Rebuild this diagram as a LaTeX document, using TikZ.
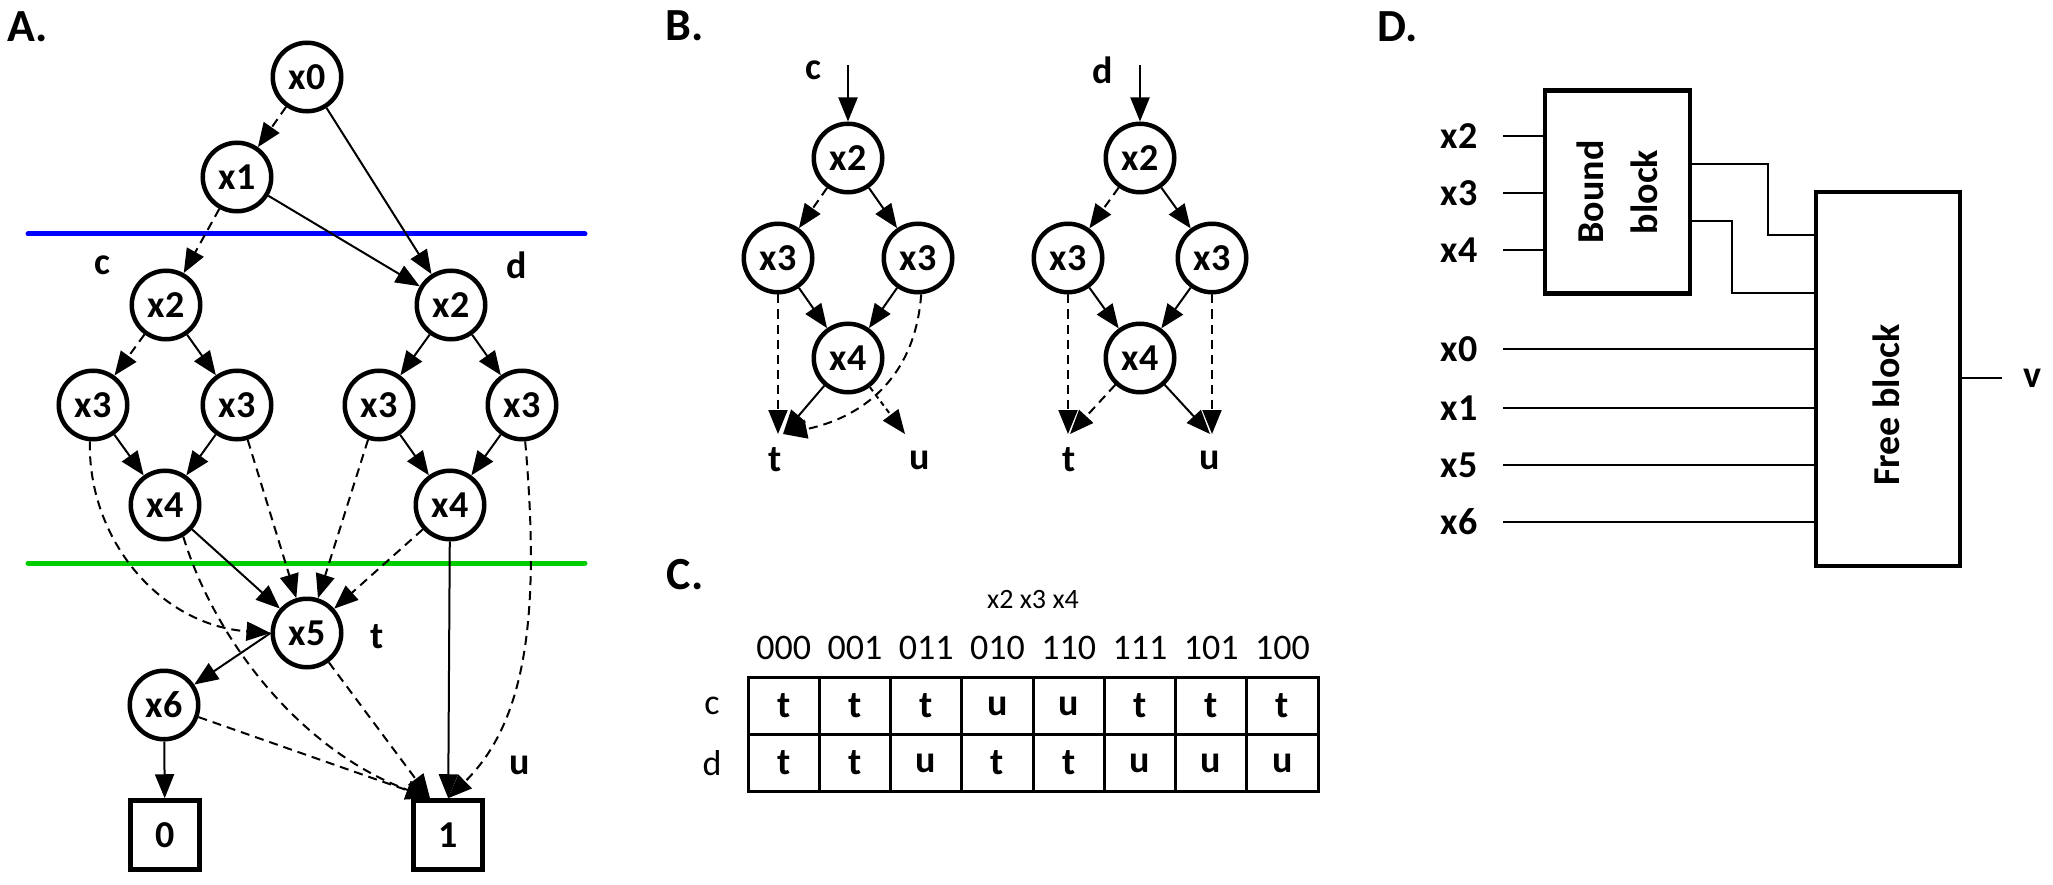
\documentclass[tikz,border=0pt]{standalone}
\usepackage{fontspec}
\setmainfont{Carlito}
\usetikzlibrary{arrows.meta,calc}
\definecolor{grn}{RGB}{0,204,0}
\definecolor{blu}{RGB}{0,0,255}
\begin{document}
\begin{tikzpicture}[x=1pt,y=-1pt,
  vnode/.style={circle,draw,line width=4.5pt,minimum size=68.5pt,inner sep=0pt,font=\fontsize{38}{40}\selectfont\bfseries},
  tbox/.style={rectangle,draw,line width=4.5pt,minimum size=69pt,inner sep=0pt,font=\fontsize{38}{40}\selectfont\bfseries},
  lbl/.style={inner sep=0pt,font=\fontsize{38}{40}\selectfont\bfseries},
  panel/.style={inner sep=0pt,font=\fontsize{46}{50}\selectfont\bfseries},
  edge/.style={line width=2pt,-{Triangle[length=24pt,width=19pt]}},
  dsh/.style={dash pattern=on 9pt off 6pt},
  fine/.style={dash pattern=on 5pt off 4pt},
  wire/.style={line width=2.5pt},
  blk/.style={draw,line width=4.5pt,inner sep=0pt},
  tline/.style={line width=3pt},
  hdr/.style={inner sep=0pt,font=\fontsize{36}{40}\selectfont},
  cell/.style={inner sep=0pt,font=\fontsize{38}{40}\selectfont\bfseries},
  sep/.style={line width=5pt,line cap=round}
]
\fill[white] (0,0) rectangle (2053,885);
\useasboundingbox (0,0) rectangle (2053,885);

% ---------------- Panel A ----------------
\node[panel] (pA) at (28,27) {A.};
\draw[sep,blu] (28,234) -- (585,234);
\draw[sep,grn] (28,563) -- (585,563);

\node[vnode] (x0) at (307,77) {x0};
\node[vnode] (x1) at (237,177) {x1};
\node[vnode] (x2c) at (166,305) {x2};
\node[vnode] (x2d) at (451,305) {x2};
\node[vnode] (x3a) at (93,405) {x3};
\node[vnode] (x3b) at (237,405) {x3};
\node[vnode] (x3c) at (379,405) {x3};
\node[vnode] (x3d) at (522,405) {x3};
\node[vnode] (x4c) at (165,505) {x4};
\node[vnode] (x4d) at (450,505) {x4};
\node[vnode] (x5) at (307,633) {x5};
\node[vnode] (x6) at (164,705) {x6};
\node[tbox] (b0) at (165,835) {0};
\node[tbox] (b1) at (448,835) {1};
\node[lbl] (lc) at (102,265) {c};
\node[lbl] (ld) at (517,265) {d};
\node[lbl] (lt) at (377,637) {t};
\node[lbl] (lu) at (520,765) {u};
\coordinate (b1t) at ($(b1.north)+(-18,0)$);

\draw[edge,dsh] (x0) -- (x1);
\draw[edge] (x0) -- (x2d);
\draw[edge,dsh] (x1) -- (x2c);
\draw[edge] (x1) -- (x2d);
\draw[edge,dsh] (x2c) -- (x3a);
\draw[edge] (x2c) -- (x3b);
\draw[edge] (x2d) -- (x3c);
\draw[edge] (x2d) -- (x3d);
\draw[edge] (x3a) -- (x4c);
\draw[edge] (x3b) -- (x4c);
\draw[edge] (x3c) -- (x4d);
\draw[edge] (x3d) -- (x4d);
\draw[edge,dsh] (x3a.265) .. controls (88,540) and (160,625) .. (x5.west);
\draw[edge,dsh] (x3b) -- (x5);
\draw[edge,dsh] (x3c) -- (x5);
\draw[edge,dsh] (x4d) -- (x5);
\draw[edge] (x4c) -- (x5);
\draw[edge,dsh] (x4c.300) .. controls (215,640) and (300,750) .. (b1t);
\draw[edge] (x4d) -- (b1);
\draw[edge,dsh] (x3d.275) .. controls (540,610) and (528,720) .. (b1.north);
\draw[edge] (x5.west) -- (x6);
\draw[edge,dsh] (x5) -- (b1t);
\draw[edge,dsh] (x6) -- (b1t);
\draw[edge] (x6) -- (b0);

% ---------------- Panel B ----------------
\node[panel] (pB) at (685,26) {B.};
% tree c
\node[lbl] (bc) at (813,70) {c};
\coordinate (cin) at (848,65);
\node[vnode] (bx2c) at (848,158) {x2};
\node[vnode] (bx3cl) at (778,258) {x3};
\node[vnode] (bx3cr) at (918,258) {x3};
\node[vnode] (bx4c) at (848,358) {x4};
\node[lbl] (btc) at (775,460) {t};
\node[lbl] (buc) at (920,460) {u};
\coordinate (ct) at (783,434);
\coordinate (cu) at (905,434);
\draw[edge] (cin) -- (bx2c);
\draw[edge,dsh] (bx2c) -- (bx3cl);
\draw[edge] (bx2c) -- (bx3cr);
\draw[edge] (bx3cl) -- (bx4c);
\draw[edge] (bx3cr) -- (bx4c);
\draw[edge,dsh] (bx3cl.south) -- (bx3cl.south |- ct);
\draw[edge] (bx4c) -- (ct);
\draw[edge,dsh] (bx3cr.275) .. controls (915,380) and (860,418) .. (ct);
\draw[edge,fine] (bx4c) -- (cu);
% tree d
\node[lbl] (bd) at (1103,70) {d};
\coordinate (din) at (1140,65);
\node[vnode] (bx2d) at (1140,158) {x2};
\node[vnode] (bx3dl) at (1068,258) {x3};
\node[vnode] (bx3dr) at (1212,258) {x3};
\node[vnode] (bx4d) at (1140,358) {x4};
\node[lbl] (btd) at (1069,460) {t};
\node[lbl] (bud) at (1210,460) {u};
\coordinate (dt) at (1070,434);
\coordinate (du) at (1210,434);
\draw[edge] (din) -- (bx2d);
\draw[edge,dsh] (bx2d) -- (bx3dl);
\draw[edge] (bx2d) -- (bx3dr);
\draw[edge] (bx3dl) -- (bx4d);
\draw[edge] (bx3dr) -- (bx4d);
\draw[edge,dsh] (bx3dl.south) -- (bx3dl.south |- dt);
\draw[edge,dsh] (bx4d) -- (dt);
\draw[edge] (bx4d) -- (du);
\draw[edge,dsh] (bx3dr.south) -- (bx3dr.south |- du);

% ---------------- Panel C ----------------
\node[panel] (pC) at (685,575) {C.};
\node[inner sep=0pt,font=\fontsize{28}{30}\selectfont] (vars) at (1033,600) {x2 x3 x4};
\node[hdr] (rc) at (712,706) {c};
\node[hdr] (rd) at (712,763) {d};
\draw[tline] (748,677) rectangle (1318,791);
\draw[tline] (748,734) -- (1318,734);
\foreach \k in {1,...,7} {\draw[tline] ({748+71.25*\k},677) -- ({748+71.25*\k},791);}
\foreach \i/\h/\c/\d in {0/000/t/t,1/001/t/t,2/011/t/u,3/010/u/t,4/110/u/t,5/111/t/u,6/101/t/u,7/100/t/u} {
  \node[hdr] (h\i) at ({748+71.25*(\i+0.5)},648) {\h};
  \node[cell] (cc\i) at ({748+71.25*(\i+0.5)},706) {\c};
  \node[cell] (cd\i) at ({748+71.25*(\i+0.5)},763) {\d};
}

% ---------------- Panel D ----------------
\node[panel] (pD) at (1398,27) {D.};
\node[blk,minimum width=145pt,minimum height=203pt] (bound) at (1617.5,192) {};
\node[lbl,rotate=90,align=center,font=\fontsize{38}{54}\selectfont\bfseries] (boundtxt) at (1617,192) {Bound\\block};
\node[blk,minimum width=144pt,minimum height=374pt] (free) at (1888,379) {};
\node[lbl,rotate=90] (freetxt) at (1886,405) {Free block};
\foreach \n/\y in {x2/136,x3/193,x4/250} {
  \node[lbl] (l\n) at (1459,\y) {\n};
  \draw[wire] ($(l\n.center)+(44,0)$) -- (l\n -| bound.west);
}
\foreach \n/\y in {x0/349,x1/408,x5/465,x6/522} {
  \node[lbl] (l\n) at (1459,\y) {\n};
  \draw[wire] ($(l\n.center)+(44,0)$) -- (l\n -| free.west);
}
\draw[wire] (bound.east |- 0,164) -- (1768,164) -- (1768,235) -- (free.west |- 0,235);
\draw[wire] (bound.east |- 0,221) -- (1732,221) -- (1732,293) -- (free.west |- 0,293);
\node[lbl] (lv) at (2032,378) {v};
\draw[wire] (free.east |- lv) -- ($(lv.center)+(-30,0)$);
\end{tikzpicture}
\end{document}
